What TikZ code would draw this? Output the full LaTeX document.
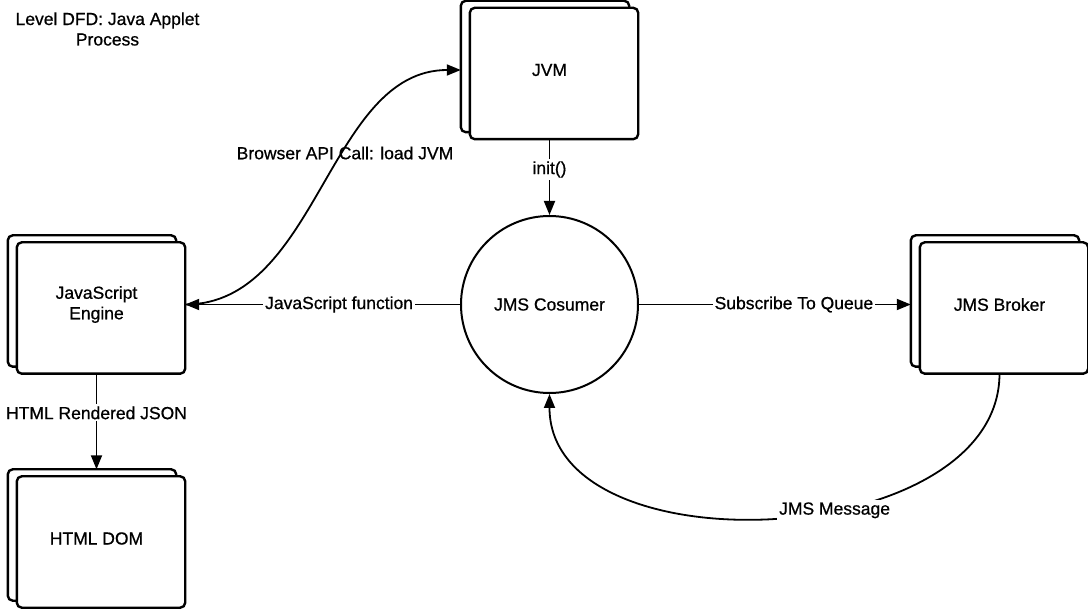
\documentclass[tikz,border=0pt]{standalone}
\usepackage{fontspec}
\setmainfont{Liberation Sans}[FakeBold=0.7]
\usetikzlibrary{arrows.meta,backgrounds,calc}

\begin{document}
\begin{tikzpicture}[x=1pt,y=-1pt,
  txt/.style={font=\fontsize{17.5}{20.5}\selectfont},
  stack/.style={txt,minimum width=177pt,minimum height=138pt,inner sep=0pt,align=center},
  card/.style={draw=black,line width=2.4pt,rounded corners=5pt,fill=white},
  proc/.style={txt,circle,draw=black,line width=2pt,minimum size=177pt,inner sep=0pt},
  flow/.style={line width=1.8pt,-{Triangle[length=14pt,width=11pt]}},
  lbl/.style={txt,fill=white,inner sep=2pt},
]
\useasboundingbox (0,0) rectangle (1088,609);

% title
\node[txt,align=center,inner sep=0pt] (title) at (107.5,29) {Level DFD: Java Applet\\Process};

% stacked stores / external entities
\node[stack] (jvm) at (549.5,70)  {JVM};
\node[stack] (jse) at (96.5,304.5) {JavaScript\\Engine};
\node[stack] (dom) at (96.5,538.5) {HTML DOM};
\node[stack] (brk) at (999.5,304.5) {JMS Broker};

% central process
\node[proc] (cons) at (549.5,304.5) {JMS Cosumer};

% two overlapping cards behind each stacked node
\begin{scope}[on background layer]
  \foreach \n in {jvm,jse,dom,brk}{
    \draw[card] (\n.north west) rectangle ($(\n.south east)+(-9,-7)$);
    \draw[card] ($(\n.north west)+(9,7)$) rectangle (\n.south east);
  }
\end{scope}

% flows
\draw[flow] (jvm.south) -- node[lbl,pos=0.4] {init()} (cons.north);
\draw[flow] (cons.west) -- node[lbl,pos=0.44] {JavaScript function} (jse.east);
\draw[flow] (cons.east) -- node[lbl,pos=0.57] {Subscribe To Queue} (brk.west);
\draw[flow] (jse.south) -- node[lbl,pos=0.41] {HTML Rendered JSON} (dom.north);
\draw[flow] (jse.east) .. controls +(133,0) and +(-133,0) .. (jvm.west);
\node[txt,inner sep=0pt] (apilbl) at (345,153) {Browser API Call: load JVM};
\draw[flow] (brk.south) .. controls +(0,178) and +(0,178) .. node[lbl,pos=0.41] {JMS Message} (cons.south);
\end{tikzpicture}
\end{document}
